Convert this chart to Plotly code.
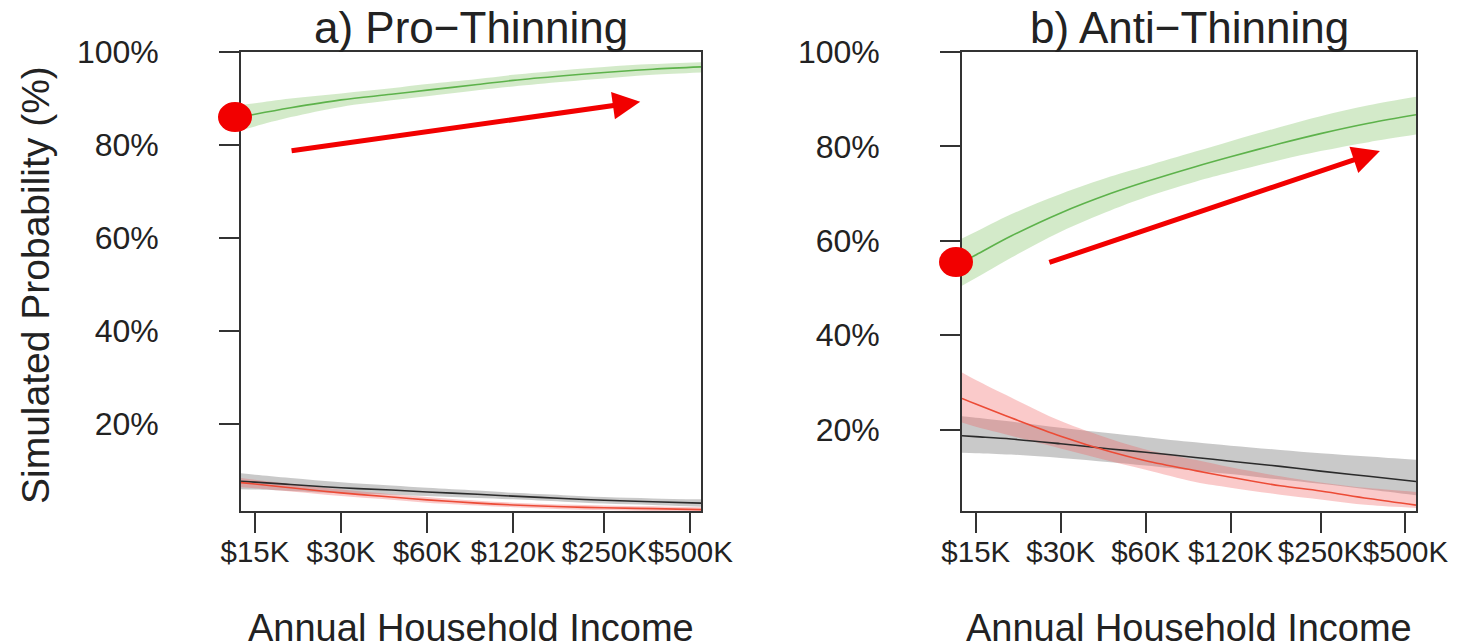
import math
import plotly.graph_objects as go

# ---------------- data ----------------
income = [13400, 15000, 20000, 30000, 45000, 60000, 90000, 120000, 180000, 250000, 370000, 545000]

tick_vals = [15000, 30000, 60000, 120000, 250000, 500000]
tick_text = ["$15K", "$30K", "$60K", "$120K", "$250K", "$500K"]
y_tick_vals = [0.2, 0.4, 0.6, 0.8, 1.0]
y_tick_text = ["20%", "40%", "60%", "80%", "100%"]

# Panel a) Pro-Thinning
a_green = [0.860, 0.866, 0.880, 0.897, 0.909, 0.918, 0.930, 0.939, 0.949, 0.956, 0.963, 0.968]
a_green_lo = [0.832, 0.840, 0.860, 0.882, 0.896, 0.905, 0.918, 0.926, 0.936, 0.943, 0.951, 0.956]
a_green_hi = [0.886, 0.890, 0.900, 0.911, 0.922, 0.931, 0.942, 0.951, 0.961, 0.968, 0.974, 0.978]
a_black = [0.077, 0.075, 0.070, 0.063, 0.058, 0.054, 0.049, 0.045, 0.040, 0.036, 0.033, 0.030]
a_black_lo = [0.060, 0.059, 0.056, 0.051, 0.048, 0.045, 0.041, 0.038, 0.033, 0.029, 0.026, 0.022]
a_black_hi = [0.094, 0.091, 0.084, 0.075, 0.068, 0.063, 0.057, 0.052, 0.047, 0.043, 0.040, 0.038]
a_red = [0.074, 0.071, 0.063, 0.052, 0.043, 0.037, 0.030, 0.026, 0.022, 0.020, 0.018, 0.016]
a_red_lo = [0.064, 0.062, 0.055, 0.045, 0.037, 0.031, 0.025, 0.021, 0.017, 0.015, 0.013, 0.011]
a_red_hi = [0.084, 0.080, 0.071, 0.059, 0.049, 0.043, 0.035, 0.031, 0.027, 0.025, 0.023, 0.021]

# Panel b) Anti-Thinning
b_green = [0.555, 0.570, 0.610, 0.659, 0.700, 0.725, 0.757, 0.778, 0.806, 0.827, 0.849, 0.867]
b_green_lo = [0.505, 0.521, 0.564, 0.619, 0.664, 0.692, 0.725, 0.745, 0.771, 0.790, 0.809, 0.825]
b_green_hi = [0.605, 0.619, 0.656, 0.699, 0.736, 0.758, 0.789, 0.811, 0.841, 0.864, 0.887, 0.905]
b_black = [0.187, 0.185, 0.180, 0.170, 0.159, 0.152, 0.141, 0.133, 0.122, 0.112, 0.101, 0.090]
b_black_lo = [0.151, 0.150, 0.147, 0.140, 0.131, 0.124, 0.113, 0.106, 0.094, 0.085, 0.073, 0.061]
b_black_hi = [0.228, 0.225, 0.217, 0.204, 0.192, 0.184, 0.173, 0.166, 0.157, 0.150, 0.143, 0.136]
b_red = [0.266, 0.254, 0.225, 0.186, 0.153, 0.134, 0.113, 0.099, 0.081, 0.070, 0.054, 0.040]
b_red_lo = [0.215, 0.206, 0.187, 0.160, 0.133, 0.115, 0.089, 0.077, 0.062, 0.052, 0.040, 0.034]
b_red_hi = [0.321, 0.305, 0.268, 0.218, 0.180, 0.158, 0.136, 0.120, 0.101, 0.088, 0.076, 0.068]

titles = ["a) Pro\u2212Thinning", "b) Anti\u2212Thinning"]
x_title = "Annual Household Income"
y_title = "Simulated Probability (%)"

# ---------------- styling ----------------
W, H = 1463, 644
OFF = 8  # page body margin in the browser
FONT = "Liberation Sans, Arial, Helvetica, sans-serif"
TXT = "#222222"
AXC = "#333333"
GREEN, GREEN_F = "#5DB24B", "rgba(120,190,90,0.33)"
RED, RED_F = "#EC4B36", "rgba(240,95,95,0.33)"
BLACK, BLACK_F = "#2b2b2b", "rgba(120,120,120,0.40)"

# pixel geometry (screen pixels) of the two plot boxes
boxes = [(241 - OFF, 701 - OFF), (962 - OFF, 1416 - OFF)]
box_top, box_bot = 52 - OFF, 511 - OFF
y_ranges = [[0.013, 1.0], [0.0275, 1.0]]
x_range = [math.log10(income[0]), math.log10(income[-1])]

fig = go.Figure()

panels = [
    [(a_green, a_green_lo, a_green_hi, GREEN, GREEN_F),
     (a_black, a_black_lo, a_black_hi, BLACK, BLACK_F),
     (a_red, a_red_lo, a_red_hi, RED, RED_F)],
    [(b_green, b_green_lo, b_green_hi, GREEN, GREEN_F),
     (b_black, b_black_lo, b_black_hi, BLACK, BLACK_F),
     (b_red, b_red_lo, b_red_hi, RED, RED_F)],
]

for i, series in enumerate(panels):
    xa = "x" if i == 0 else "x2"
    ya = "y" if i == 0 else "y2"
    for mean, lo, hi, lc, fc in series:
        fig.add_trace(go.Scatter(x=income, y=lo, mode="lines", line=dict(width=0, shape="spline"),
                                 xaxis=xa, yaxis=ya, showlegend=False, hoverinfo="skip"))
        fig.add_trace(go.Scatter(x=income, y=hi, mode="lines", line=dict(width=0, shape="spline"),
                                 fill="tonexty", fillcolor=fc,
                                 xaxis=xa, yaxis=ya, showlegend=False, hoverinfo="skip"))
    for mean, lo, hi, lc, fc in series:
        fig.add_trace(go.Scatter(x=income, y=mean, mode="lines", line=dict(color=lc, width=1.6, shape="spline"),
                                 xaxis=xa, yaxis=ya, showlegend=False))

def xdom(b):
    return [b[0] / W, b[1] / W]

ydom = [(H - box_bot) / H, (H - box_top) / H]

common_x = dict(type="log", range=x_range, tickvals=tick_vals, ticktext=tick_text, tickangle=0,
                automargin=False,
                showline=True, mirror=True, linecolor=AXC, linewidth=1.6,
                ticks="outside", ticklen=20, tickwidth=1.6, tickcolor=AXC,
                ticklabelstandoff=-6, showgrid=False, zeroline=False,
                tickfont=dict(family=FONT, size=29.5, color=TXT))
common_y = dict(tickvals=y_tick_vals, ticktext=y_tick_text, automargin=False,
                showline=True, mirror=True, linecolor=AXC, linewidth=1.6,
                ticks="outside", ticklen=20, tickwidth=1.6, tickcolor=AXC,
                ticklabelstandoff=54, showgrid=False, zeroline=False,
                tickfont=dict(family=FONT, size=32, color=TXT))

fig.update_layout(
    width=W, height=H,
    margin=dict(l=0, r=0, t=0, b=0, autoexpand=False),
    paper_bgcolor="white", plot_bgcolor="white",
    font=dict(family=FONT, color=TXT),
    xaxis=dict(domain=xdom(boxes[0]), anchor="y", **common_x),
    yaxis=dict(domain=ydom, anchor="x", range=y_ranges[0], **common_y),
    xaxis2=dict(domain=xdom(boxes[1]), anchor="y2", **common_x),
    yaxis2=dict(domain=ydom, anchor="x2", range=y_ranges[1], **common_y),
)

annotations = []
for i, b in enumerate(boxes):
    cx = (b[0] + b[1]) / 2 / W
    annotations.append(dict(text=titles[i], x=cx, y=(H - (28 - OFF)) / H, xref="paper", yref="paper",
                            xanchor="center", yanchor="middle", showarrow=False,
                            font=dict(family=FONT, size=44, color=TXT)))
    annotations.append(dict(text=x_title, x=cx, y=(H - (628 - OFF)) / H, xref="paper", yref="paper",
                            xanchor="center", yanchor="middle", showarrow=False,
                            font=dict(family=FONT, size=38, color=TXT)))
annotations.append(dict(text=y_title, x=(35 - OFF) / W, y=(H - (285 - OFF)) / H, xref="paper", yref="paper",
                        xanchor="center", yanchor="middle", textangle=-90, showarrow=False,
                        font=dict(family=FONT, size=39, color=TXT)))

# red trend arrows (tip x,y ; tail ax,ay) in data coordinates
arrows = [
    dict(xref="x", yref="y", axref="x", ayref="y",
         x=math.log10(334000), y=0.893, ax=math.log10(19900), ay=0.787),
    dict(xref="x2", yref="y2", axref="x2", ayref="y2",
         x=math.log10(406000), y=0.790, ax=math.log10(27000), ay=0.553),
]
for a in arrows:
    annotations.append(dict(text="", showarrow=True, arrowhead=2, arrowsize=1.1,
                            arrowwidth=5, arrowcolor="#F20000", standoff=0, **a))
fig.update_layout(annotations=annotations)

# red dots marking the starting (lowest income) value of the green curve
shapes = []
for i, start in enumerate([a_green[0], b_green[0]]):
    xr = "x domain" if i == 0 else "x2 domain"
    yr = "y" if i == 0 else "y2"
    shapes.append(dict(type="circle", xref=xr, yref=yr, xsizemode="pixel", ysizemode="pixel",
                       xanchor=0, yanchor=start, x0=-23, x1=11, y0=-15, y1=15,
                       fillcolor="#F20000", line=dict(width=0)))
fig.update_layout(shapes=shapes)

fig.write_html("out.html")
